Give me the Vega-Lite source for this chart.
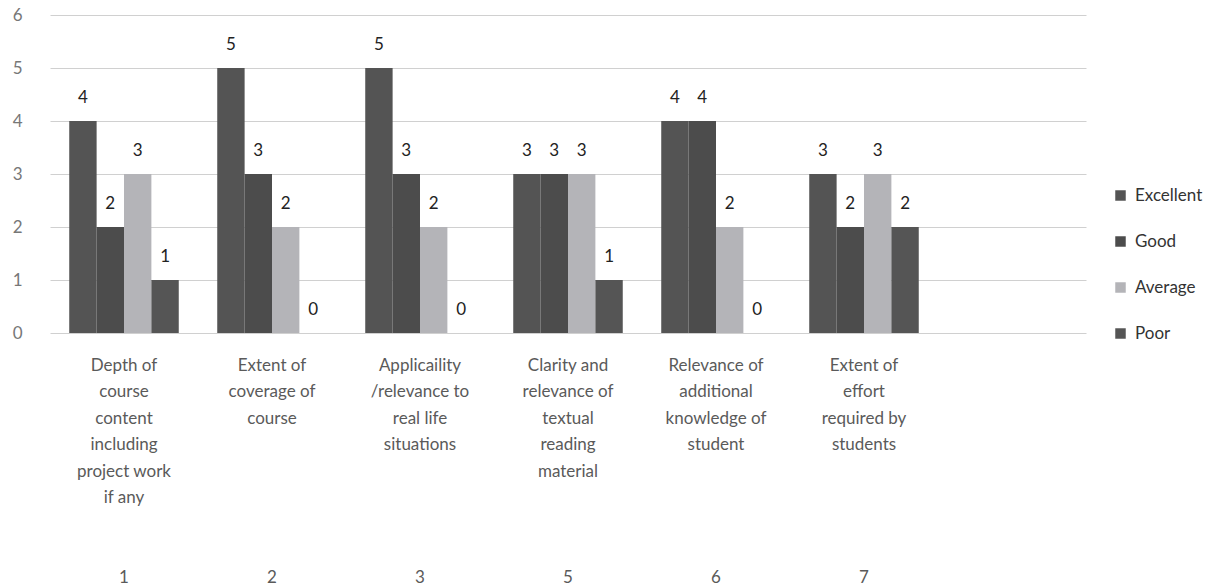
{
  "$schema": "https://vega.github.io/schema/vega-lite/v6.json",
  "width": 1036,
  "height": 318,
  "autosize": "none",
  "padding": {"left": 50, "top": 15, "right": 143, "bottom": 253},
  "background": "white",
  "config": {
    "view": {"stroke": null},
    "font": "Lato"
  },
  "data": {
    "values": [
      {"item": "Depth of|course|content|including|project work|if any|\u200b\u00a0|\u200b\u00a0|1", "rating": "Excellent", "count": 4},
      {"item": "Depth of|course|content|including|project work|if any|\u200b\u00a0|\u200b\u00a0|1", "rating": "Good", "count": 2},
      {"item": "Depth of|course|content|including|project work|if any|\u200b\u00a0|\u200b\u00a0|1", "rating": "Average", "count": 3},
      {"item": "Depth of|course|content|including|project work|if any|\u200b\u00a0|\u200b\u00a0|1", "rating": "Poor", "count": 1},
      {"item": "Extent of|coverage of|course|\u200b\u00a0|\u200b\u00a0|\u200b\u00a0|\u200b\u00a0|\u200b\u00a0|2", "rating": "Excellent", "count": 5},
      {"item": "Extent of|coverage of|course|\u200b\u00a0|\u200b\u00a0|\u200b\u00a0|\u200b\u00a0|\u200b\u00a0|2", "rating": "Good", "count": 3},
      {"item": "Extent of|coverage of|course|\u200b\u00a0|\u200b\u00a0|\u200b\u00a0|\u200b\u00a0|\u200b\u00a0|2", "rating": "Average", "count": 2},
      {"item": "Extent of|coverage of|course|\u200b\u00a0|\u200b\u00a0|\u200b\u00a0|\u200b\u00a0|\u200b\u00a0|2", "rating": "Poor", "count": 0},
      {"item": "Applicaility|/relevance to|real life|situations|\u200b\u00a0|\u200b\u00a0|\u200b\u00a0|\u200b\u00a0|3", "rating": "Excellent", "count": 5},
      {"item": "Applicaility|/relevance to|real life|situations|\u200b\u00a0|\u200b\u00a0|\u200b\u00a0|\u200b\u00a0|3", "rating": "Good", "count": 3},
      {"item": "Applicaility|/relevance to|real life|situations|\u200b\u00a0|\u200b\u00a0|\u200b\u00a0|\u200b\u00a0|3", "rating": "Average", "count": 2},
      {"item": "Applicaility|/relevance to|real life|situations|\u200b\u00a0|\u200b\u00a0|\u200b\u00a0|\u200b\u00a0|3", "rating": "Poor", "count": 0},
      {"item": "Clarity and|relevance of|textual|reading|material|\u200b\u00a0|\u200b\u00a0|\u200b\u00a0|5", "rating": "Excellent", "count": 3},
      {"item": "Clarity and|relevance of|textual|reading|material|\u200b\u00a0|\u200b\u00a0|\u200b\u00a0|5", "rating": "Good", "count": 3},
      {"item": "Clarity and|relevance of|textual|reading|material|\u200b\u00a0|\u200b\u00a0|\u200b\u00a0|5", "rating": "Average", "count": 3},
      {"item": "Clarity and|relevance of|textual|reading|material|\u200b\u00a0|\u200b\u00a0|\u200b\u00a0|5", "rating": "Poor", "count": 1},
      {"item": "Relevance of|additional|knowledge of|student|\u200b\u00a0|\u200b\u00a0|\u200b\u00a0|\u200b\u00a0|6", "rating": "Excellent", "count": 4},
      {"item": "Relevance of|additional|knowledge of|student|\u200b\u00a0|\u200b\u00a0|\u200b\u00a0|\u200b\u00a0|6", "rating": "Good", "count": 4},
      {"item": "Relevance of|additional|knowledge of|student|\u200b\u00a0|\u200b\u00a0|\u200b\u00a0|\u200b\u00a0|6", "rating": "Average", "count": 2},
      {"item": "Relevance of|additional|knowledge of|student|\u200b\u00a0|\u200b\u00a0|\u200b\u00a0|\u200b\u00a0|6", "rating": "Poor", "count": 0},
      {"item": "Extent of|effort|required by|students|\u200b\u00a0|\u200b\u00a0|\u200b\u00a0|\u200b\u00a0|7", "rating": "Excellent", "count": 3},
      {"item": "Extent of|effort|required by|students|\u200b\u00a0|\u200b\u00a0|\u200b\u00a0|\u200b\u00a0|7", "rating": "Good", "count": 2},
      {"item": "Extent of|effort|required by|students|\u200b\u00a0|\u200b\u00a0|\u200b\u00a0|\u200b\u00a0|7", "rating": "Average", "count": 3},
      {"item": "Extent of|effort|required by|students|\u200b\u00a0|\u200b\u00a0|\u200b\u00a0|\u200b\u00a0|7", "rating": "Poor", "count": 2}
    ]
  },
  "encoding": {
    "x": {
      "field": "item",
      "type": "nominal",
      "sort": null,
      "scale": {
        "domain": [
          "Depth of|course|content|including|project work|if any|\u200b\u00a0|\u200b\u00a0|1",
          "Extent of|coverage of|course|\u200b\u00a0|\u200b\u00a0|\u200b\u00a0|\u200b\u00a0|\u200b\u00a0|2",
          "Applicaility|/relevance to|real life|situations|\u200b\u00a0|\u200b\u00a0|\u200b\u00a0|\u200b\u00a0|3",
          "Clarity and|relevance of|textual|reading|material|\u200b\u00a0|\u200b\u00a0|\u200b\u00a0|5",
          "Relevance of|additional|knowledge of|student|\u200b\u00a0|\u200b\u00a0|\u200b\u00a0|\u200b\u00a0|6",
          "Extent of|effort|required by|students|\u200b\u00a0|\u200b\u00a0|\u200b\u00a0|\u200b\u00a0|7",
          " "
        ],
        "paddingInner": 0.26,
        "paddingOuter": 0.13
      },
      "axis": {
        "title": null,
        "labelAngle": 0,
        "labelExpr": "split(datum.label, '|')",
        "labelFontSize": 17,
        "labelColor": "#5a5a5a",
        "labelLineHeight": 26.5,
        "labelPadding": 24,
        "labelBaseline": "top",
        "domain": false,
        "ticks": false,
        "labelLimit": 0
      }
    },
    "xOffset": {
      "field": "rating",
      "type": "nominal",
      "sort": ["Excellent", "Good", "Average", "Poor"],
      "scale": {"paddingInner": 0, "paddingOuter": 0}
    },
    "y": {
      "field": "count",
      "type": "quantitative",
      "scale": {"domain": [0, 6]},
      "axis": {
        "title": null,
        "values": [0, 1, 2, 3, 4, 5, 6],
        "labelOverlap": false,
        "domain": false,
        "ticks": false,
        "labelFontSize": 17,
        "labelColor": "#777777",
        "labelPadding": 28,
        "gridColor": "#d0d0d0",
        "gridWidth": 1
      }
    }
  },
  "layer": [
    {
      "mark": {"type": "bar"},
      "encoding": {
        "color": {
          "field": "rating",
          "type": "nominal",
          "sort": ["Excellent", "Good", "Average", "Poor"],
          "scale": {
            "domain": ["Excellent", "Good", "Average", "Poor"],
            "range": ["#545454", "#4c4c4c", "#b4b4b8", "#555555"]
          },
          "legend": {
            "title": null,
            "orient": "none",
            "legendX": 1062,
            "legendY": 172,
            "symbolType": "square",
            "symbolSize": 110,
            "labelFontSize": 17,
            "labelColor": "#333333",
            "rowPadding": 28,
            "symbolOffset": 0,
            "labelOffset": 6
          }
        }
      }
    },
    {
      "mark": {"type": "text", "baseline": "bottom", "dy": -14, "fontSize": 17, "color": "#222222"},
      "encoding": {
        "text": {"field": "count", "type": "quantitative"}
      }
    }
  ]
}
